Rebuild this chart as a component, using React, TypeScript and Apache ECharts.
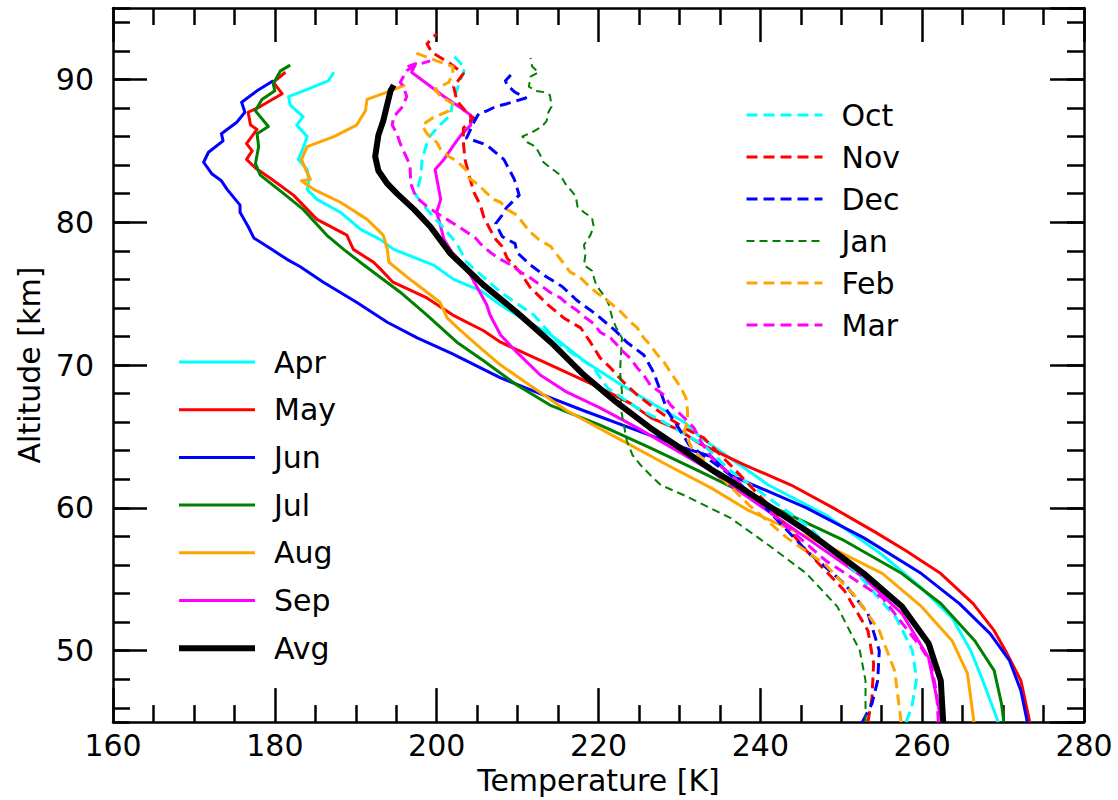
import React, { useEffect, useRef } from "react";
import * as echarts from "echarts";

type P = [number, number];

// Temperature [K], altitude [km]
const apr: P[] = [[269.4,45],[267.5,47.9],[266,50],[263.7,52.3],[259.9,54.4],[255.1,56.7],[248.1,59.5],[241,61.6],[232.7,64.9],[230.6,66],[226.4,67.4],[222.3,68.8],[218.2,70.3],[214.1,72.1],[209.9,73.5],[207.9,74.2],[205.5,75.2],[202.1,76],[199.6,77],[194.7,78.1],[193,78.8],[190.6,79.5],[188.1,80.7],[185.2,81.6],[184,82.3],[184.2,82.9],[184,83.7],[182.9,84.4],[183.5,85.2],[184,86],[182.7,86.8],[183.5,87.4],[181.9,88.2],[181.7,88.8],[184,89.3],[186.6,89.9],[187.3,90.5]];
const may: P[] = [[273.3,45],[272.2,47.9],[270.3,50],[268.9,51.4],[266.3,53.3],[262.3,55.4],[258,57],[254.2,58.3],[249,60],[243.8,61.6],[238.1,63],[232.5,64.5],[229.8,65.5],[226.5,66.3],[224,67.3],[220.2,68.4],[214.1,70],[207.9,71.6],[205.8,72.4],[202,73.5],[198.8,74.7],[194.6,75.8],[193,76.75],[192.2,77.2],[189.7,78.1],[188.9,79.1],[185.2,80.2],[182.3,81.9],[179.4,83.1],[177.6,83.8],[176.5,84.4],[177.2,85],[176.5,85.5],[177.8,86.5],[177,86.8],[176.7,87.7],[178.2,88.1],[180.9,89],[179.8,89.8],[181.3,90.5]];
const jun: P[] = [[273,45],[272.2,47.2],[270.8,49.3],[268.4,51.2],[264.6,53.3],[259.9,55.4],[252.8,57.9],[245.7,60],[236.3,62.3],[233.9,63.6],[230.6,64.2],[224.4,65.5],[218.2,66.8],[214.1,67.7],[207.9,69.1],[201.9,70.8],[197.6,71.9],[193.9,73],[190.1,74.4],[186,75.8],[183.1,76.9],[181.5,77.4],[179.6,78.1],[177.4,78.9],[176.7,79.7],[175.7,80.7],[175.7,81.2],[174.1,82.3],[173.4,82.9],[172.2,83.4],[171.2,84.2],[171.8,84.9],[173.6,85.7],[173.4,86.2],[175.3,87],[176.3,87.7],[175.9,88.4],[177.8,89.2],[179.8,89.9]];
const jul: P[] = [[270.1,45],[269.8,46.3],[268.9,48.6],[266.5,50.7],[262.3,53.3],[257.5,55.4],[250.4,57.7],[241,60.2],[232.7,62.5],[226.4,64.2],[220.2,65.8],[214,67.2],[209.9,68.6],[205.8,70.3],[202.5,71.6],[198.8,73.5],[195.5,75.1],[191,77],[188.5,78.1],[186.4,79.1],[183.5,80.9],[181.1,82],[178.2,83.3],[177.6,84.1],[178,85.3],[177.8,86.2],[179.2,86.7],[177.6,87.8],[178.4,88.6],[180,89.2],[179.8,89.7],[180.7,90.6],[181.9,91]];
const aug: P[] = [[266.4,45],[265.6,48.4],[263.7,50.7],[259.9,53.1],[255.1,55.4],[248.1,57.4],[238.6,59.8],[233.9,61.4],[228.5,63],[222.3,64.9],[216.1,66.8],[212,68.4],[207.9,70],[205,71.4],[202.8,72.5],[201.3,73.3],[200.4,74.4],[197.2,75.8],[196.7,76],[194.1,77.2],[193.9,78.1],[193.4,79.1],[191.4,80.2],[188.1,81.4],[184.8,82.3],[183.3,82.9],[184.4,83],[183.8,83.7],[183.3,84.4],[184,85.3],[187.3,86],[190.1,86.8],[191.2,87.8],[191.4,88.6],[194.3,89.2],[196.1,89.6]];
const sep: P[] = [[262.4,45],[260.8,49.5],[257.5,52.6],[252.8,55.1],[245.7,57.9],[236.3,61.6],[233.9,62.6],[229.7,64],[224.8,65.6],[220.2,67],[216.1,68.1],[212.8,69.3],[209.9,70.9],[207.9,72.1],[206.6,73.5],[206.2,74.2],[203.7,76.8],[201.9,77.9],[200.9,78.8],[200.5,79.7],[200,80.7],[200.5,81.6],[200.2,82.5],[199.8,83.7],[200.9,84.4],[202.1,85.4],[203,86.1],[204.2,86.8],[204.2,87.5],[203,88],[200.9,88.8],[198.8,89.7],[196.9,90.5],[197.4,91.1],[196.4,90.9]];
const oct: P[] = [[258,45],[258.7,46],[259.3,48],[258.8,50],[256.8,52.3],[252,55.4],[245.7,58.8],[236.3,62.6],[233,64.4],[228.1,66],[224.8,67],[221.1,68.4],[219.4,69.8],[215.3,71.4],[212,73.5],[207.9,75.1],[203.7,77.2],[202.5,78.5],[200.7,79.7],[198.8,80.9],[197.4,81.9],[198,83.1],[198.2,84.4],[199,85.9],[200.2,86.7],[201.7,87.5],[202,88.4],[202.7,89.6],[203.5,90.8],[201.7,91.9]];
const nov: P[] = [[253.3,45],[253.8,46.7],[254,49.1],[253.3,51.4],[250.4,54.2],[245.7,57],[241,60.2],[236.3,63],[233,64.9],[230.6,65.6],[228.1,66.5],[226.4,67.2],[224.8,67.9],[223.1,68.8],[221.5,69.8],[220.2,70.5],[219,71.6],[217.8,72.6],[215.7,73.3],[213.8,74.2],[211.6,75.4],[210.3,76.5],[208.7,77.5],[208.1,78.3],[207.3,78.8],[206.6,79.5],[205.8,80.4],[205.4,81.2],[204.6,82.1],[204,83.3],[203.5,84.4],[203.3,85.6],[203.3,86.6],[204.6,87.3],[204,87.5],[202.5,88.5],[202.1,89.5],[203.3,90.4],[201.7,91.1],[199.4,91.9],[198.8,92.5],[200,93.2]];
const dec: P[] = [[252.6,45],[253.8,46.3],[254.5,47.9],[254.7,50],[253.3,52.6],[250.4,54.7],[245.7,57],[241,59.8],[236.3,62.3],[231.2,64.4],[229.9,65.6],[228.5,66.8],[227.7,68.1],[226.8,69.5],[225.6,70.7],[223.5,71.6],[222.1,72.4],[219.6,73.6],[217.4,74.5],[215.5,75.5],[213.5,76.2],[211.6,77],[209.9,77.9],[209.7,78.5],[208.1,79],[207.3,79.9],[208.1,80.5],[208.6,81],[210.2,81.9],[209.6,83],[208.3,84.4],[206.2,85.4],[203.7,85.9],[204.6,87],[205.2,87.6],[206.2,87.8],[207.3,88.1],[208.7,88.3],[211,88.7],[209.7,89.1],[208.7,89.6],[208.5,89.9],[209.3,90.4]];
const jan: P[] = [[253,45],[253,47.9],[252.3,50],[249.5,53.1],[245.7,55.4],[241,57.4],[236.3,59.3],[230.5,60.9],[227.7,61.6],[226.4,62.3],[225.2,63],[224.2,63.7],[223.5,64.7],[222.9,66.5],[222.7,67.2],[222.9,68.1],[222.7,69.3],[222.7,70],[222.9,71.9],[222.2,72.6],[221.7,73.3],[221.3,74.2],[220.9,74.7],[220.1,75.3],[219.6,75.8],[219.2,76.6],[218.2,77],[218.4,77.8],[218.2,78.4],[219,79.1],[219.4,79.7],[219.2,80.3],[218.2,80.7],[217.4,81.1],[217.2,81.8],[216.5,82.3],[215.9,82.7],[215.3,83.3],[214.1,83.8],[213.2,84.2],[212.8,84.7],[212.2,85.3],[211.2,85.6],[210.6,86],[211.8,86.3],[213,86.7],[213.6,87.1],[213.8,87.7],[214.2,88.1],[214,88.9],[213.4,89.1],[212.2,89.2],[211.4,89.5],[211.6,90.2],[212.6,90.5],[211.8,90.9],[211.6,91.5]];
const feb: P[] = [[257.4,45],[256.6,48.6],[254.7,51.4],[251.9,53.7],[248.1,56],[243.3,57.9],[238.6,60.2],[231.5,64.2],[230.6,65.4],[231,66],[231,66.8],[230.8,67.7],[230.2,68.4],[228.9,69.5],[228.1,70.2],[227.3,70.7],[226.4,71.4],[225.6,71.9],[224.8,72.6],[224,73],[222.8,73.7],[221.8,74.2],[220.7,74.7],[219.7,75.1],[218.7,75.6],[217.6,76.2],[216.5,76.5],[215.6,77.2],[214.9,77.7],[214.1,78.3],[212.6,78.8],[211.6,79.3],[211,79.7],[209.9,80.5],[208.7,80.9],[207.9,81.4],[207,81.6],[205.9,82.2],[205.2,82.6],[204,83.1],[203.7,83.6],[202.5,84.3],[201.5,84.6],[200.5,85.1],[200,85.6],[198.8,86.2],[198.2,86.8],[199.5,87.3],[201.5,87.8],[202,88.3],[200.5,88.8],[199.8,89.3],[201.5,89.8],[202,90.4],[202,90.9],[200,91.3],[197.2,91.9]];
const mar: P[] = [[262,45],[261.8,47],[261.1,49.1],[259.9,50.2],[255.1,53.7],[248.1,56.3],[241,59.8],[236.8,62.1],[234,63.5],[232.6,64.7],[231.8,65.6],[230.6,66.3],[228.9,67.2],[228.1,67.9],[226.4,68.6],[225.6,69.3],[224.8,69.8],[223.9,70.5],[223.1,70.9],[222.3,71.4],[221.5,71.9],[220.2,72.3],[219.4,72.9],[218.2,73.4],[217.4,73.8],[216.1,74.3],[215.3,74.7],[214,75.1],[212.8,75.6],[211.6,76.1],[210.4,76.5],[209.2,77],[207.9,77.4],[206.6,77.9],[205.4,78.5],[204.8,78.9],[202.7,79.7],[200.7,80.4],[198.8,81.1],[197.4,81.8],[196.8,82.7],[196.7,84],[195.5,85.5],[195.1,86.2],[194.5,86.8],[194.7,87.4],[195.8,88.1],[196.3,88.8],[195.9,89.5],[195.5,89.8],[196.3,90.6],[197.4,91],[199.2,91.3]];
const avg: P[] = [[262.6,45],[262.3,47.9],[260.8,50.5],[257.5,53.1],[252.8,55.4],[245.7,58.4],[236.3,61.9],[233.9,62.7],[230.6,64],[226.4,65.6],[222.2,67.4],[218.2,69.3],[214.1,71.6],[209.9,73.7],[205.8,75.6],[201.7,77.8],[199.2,79.7],[197.2,80.9],[195.1,82],[193.9,82.7],[192.8,83.6],[192.4,84.6],[192.8,86.1],[193.4,87.1],[194.3,89.2],[194.7,89.6]];

const solidNames = ["Apr", "May", "Jun", "Jul", "Aug", "Sep", "Avg"];
const dashedNames = ["Oct", "Nov", "Dec", "Jan", "Feb", "Mar"];

const FONT = "DejaVu Sans";
const FS = 30;

export default function App() {
  const ref = useRef<HTMLDivElement>(null);
  useEffect(() => {
    if (!ref.current) return;
    const chart = echarts.init(ref.current, null, { renderer: "svg" });
    const dash = [11, 6];
    const mk = (name: string, data: P[], color: string, width: number, type: any) => ({
      name,
      type: "line",
      data,
      symbol: "none",
      showSymbol: false,
      xAxisIndex: 0,
      yAxisIndex: 0,
      lineStyle: { color, width, type, cap: "butt", join: "round" },
      itemStyle: { color },
      emphasis: { disabled: true },
      z: 2,
    });
    const series = [
      mk("Apr", apr, "#00ffff", 3, "solid"),
      mk("May", may, "#ff0000", 3, "solid"),
      mk("Jun", jun, "#0000ff", 3, "solid"),
      mk("Jul", jul, "#008000", 3, "solid"),
      mk("Aug", aug, "#ffa500", 3, "solid"),
      mk("Sep", sep, "#ff00ff", 3, "solid"),
      mk("Oct", oct, "#00ffff", 3, dash),
      mk("Nov", nov, "#ff0000", 3, dash),
      mk("Dec", dec, "#0000ff", 3, dash),
      mk("Jan", jan, "#008000", 2, [8, 5]),
      mk("Feb", feb, "#ffa500", 3, dash),
      mk("Mar", mar, "#ff00ff", 3, dash),
      mk("Avg", avg, "#000000", 6, "solid"),
    ];
    const axisLine = { show: true, lineStyle: { color: "#000", width: 2.5 } };
    const tickStyle = { color: "#000", width: 2.5 };
    const labelStyle = { fontFamily: FONT, fontSize: FS, color: "#000" };
    const yBase = (pos: string, major: boolean, labels: boolean) => ({
      type: "value",
      position: pos,
      min: 45,
      max: 95,
      minInterval: major ? 10 : 2,
      maxInterval: major ? 10 : 2,
      axisLine: major ? axisLine : { show: false },
      axisTick: { show: true, inside: true, length: major ? 34 : 17, lineStyle: tickStyle },
      axisLabel: labels
        ? { show: true, margin: 19, showMinLabel: false, showMaxLabel: false, ...labelStyle }
        : { show: false },
      splitLine: { show: false },
      name: labels ? "Altitude [km]" : "",
      nameLocation: "middle",
      nameGap: 68,
      nameTextStyle: { fontFamily: FONT, fontSize: FS, color: "#000" },
    });
    const xBase = (pos: string, labels: boolean) => ({
      type: "value",
      position: pos,
      min: 160,
      max: 280,
      interval: 20,
      axisLine,
      axisTick: { show: true, inside: true, length: 34, lineStyle: tickStyle },
      minorTick: { show: true, splitNumber: 4, length: 17, lineStyle: tickStyle },
      axisLabel: labels ? { show: true, margin: 8, ...labelStyle } : { show: false },
      splitLine: { show: false },
      minorSplitLine: { show: false },
      name: labels ? "Temperature [K]" : "",
      nameLocation: "middle",
      nameGap: 36,
      nameTextStyle: { fontFamily: FONT, fontSize: FS, color: "#000" },
    });
    const legendText = {
      fontFamily: FONT,
      fontSize: FS,
      color: "#000",
      lineHeight: 32,
      padding: [0, 0, 0, 14],
    };
    const legendCommon = {
      orient: "vertical",
      padding: 0,
      itemWidth: 76,
      itemHeight: 20,
      selectedMode: false,
      textStyle: legendText,
      lineStyle: { width: "inherit" },
      itemStyle: { opacity: 0 },
    };
    chart.setOption({
      animation: false,
      backgroundColor: "#fff",
      grid: { left: 113, right: 34, top: 8, bottom: 75, containLabel: false },
      xAxis: [xBase("bottom", true), xBase("top", false)],
      yAxis: [
        yBase("left", true, true),
        yBase("left", false, false),
        yBase("right", true, false),
        yBase("right", false, false),
      ],
      legend: [
        { ...legendCommon, data: solidNames, left: 176, top: 346, itemGap: 15.7 },
        { ...legendCommon, data: dashedNames, left: 745, top: 99, itemGap: 10 },
      ],
      series,
    });
    return () => chart.dispose();
  }, []);
  return (
    <div
      ref={ref}
      style={{ position: "fixed", left: 0, top: 0, width: 1118, height: 800, background: "#fff" }}
    />
  );
}
